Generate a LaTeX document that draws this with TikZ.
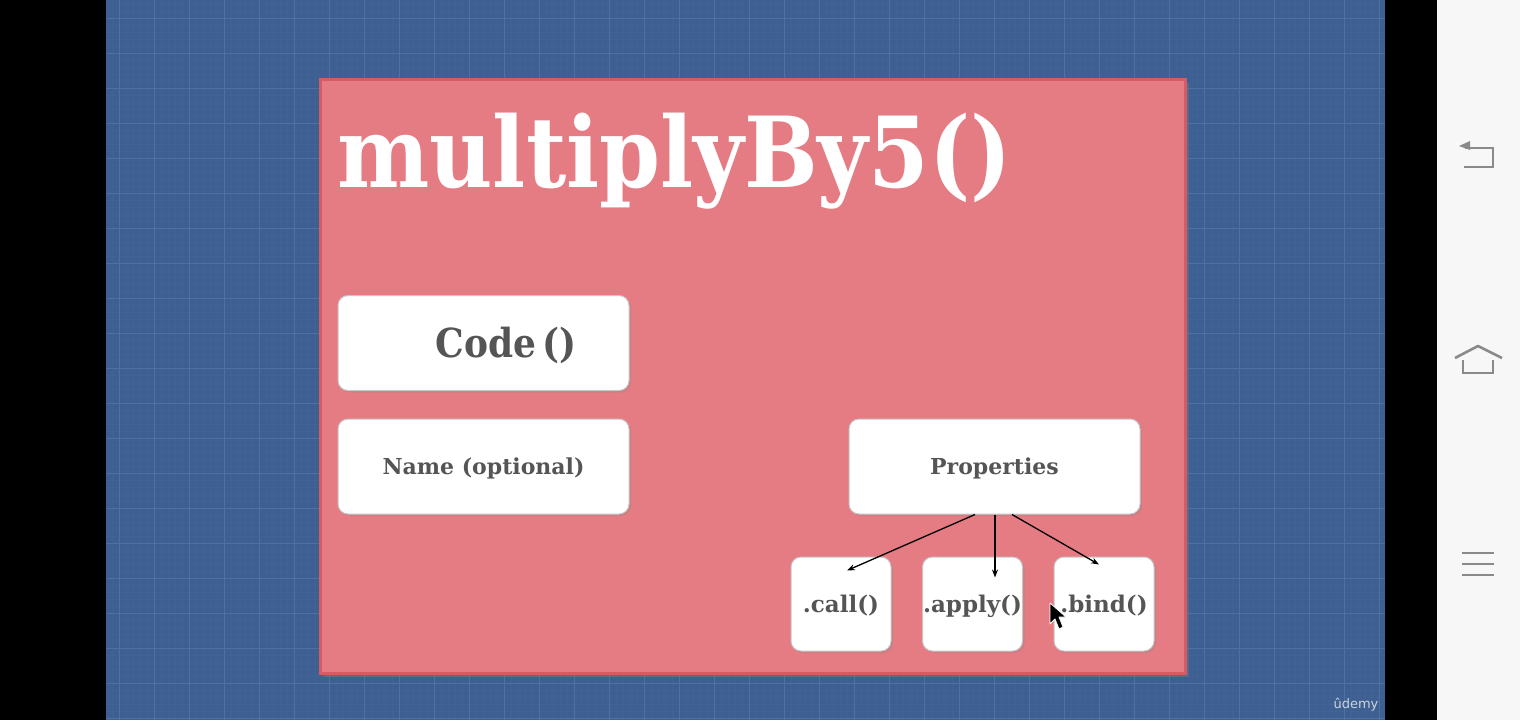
\documentclass[tikz,border=0pt]{standalone}
\usepackage{fontspec}
\setmainfont{DejaVu Serif}
\newfontfamily\logofont{DejaVu Sans}
\usetikzlibrary{arrows.meta,shadows,calc}
\definecolor{boardblue}{HTML}{3E5F92}
\definecolor{gridblue}{HTML}{4E70A3}
\definecolor{slidered}{HTML}{E57C84}
\definecolor{slideedge}{HTML}{D65B64}
\definecolor{labelgray}{HTML}{555555}
\definecolor{navgray}{HTML}{8A8A8A}
\definecolor{navpanel}{HTML}{F7F7F7}
\tikzset{
  gridline/.style={gridblue, line width=1pt},
  minorline/.style={gridblue, opacity=0.18, line width=0.6pt},
  card/.style={fill=white, draw=gray!45, line width=1pt, rounded corners=10pt,
    drop shadow={shadow xshift=2pt, shadow yshift=-2pt, opacity=0.25},
    text=labelgray, font=\bfseries, inner sep=0pt,
    text height=18pt, text depth=2pt},
  widecard/.style={card, minimum width=291pt, minimum height=95pt},
  smallcard/.style={card, minimum width=100pt, minimum height=94pt,
    font=\bfseries\fontsize{23}{23}\selectfont, text height=19pt},
  link/.style={-{Stealth[length=8pt,width=6pt]}, line width=1.3pt},
  navicon/.style={navgray, line width=2.6pt},
}
\begin{document}
\begin{tikzpicture}[x=1pt, y=-1pt]
  \useasboundingbox (0,0) rectangle (1520,720);
  % screen bars
  \fill[black] (0,0) rectangle (1437,720);
  \fill[navpanel] (1437,0) rectangle (1520,720);
  \fill[boardblue] (106,0) rectangle (1385,720);
  % blueprint grid
  \begin{scope}
    \clip (106,0) rectangle (1385,720);
    \foreach \x in {112,119,...,1385} \draw[minorline] (\x,0) -- (\x,720);
    \foreach \y in {4,11,...,720} \draw[minorline] (106,\y) -- (1385,\y);
    \foreach \x in {119,154,...,1385} \draw[gridline] (\x,0) -- (\x,720);
    \foreach \y in {18,53,...,720} \draw[gridline] (106,\y) -- (1385,\y);
  \end{scope}
  % slide
  \fill[slidered, draw=slideedge, line width=3pt,
    drop shadow={shadow xshift=4pt, shadow yshift=-4pt, opacity=0.4}]
    (320,79) rectangle (1185,673);
  \node[anchor=base west, white, inner sep=0pt,
    font=\bfseries\fontsize{98}{98}\selectfont] (title) at (337,187)
    {\scalebox{0.89}[1]{multiplyBy5()}};
  \node[widecard] (code) at (483.5,343) {};
  \node[text=labelgray, font=\bfseries\fontsize{40}{40}\selectfont] (codetxt) at (506,345)
    {\scalebox{0.9}[1]{Code\,()}};
  \node[widecard, font=\bfseries\fontsize{22}{22}\selectfont] (name) at (483.5,466.5) {Name (optional)};
  \node[widecard, font=\bfseries\fontsize{22}{22}\selectfont] (props) at (994.5,466.5) {Properties};
  \node[smallcard] (call) at (841,604) {.call()};
  \node[smallcard] (apply) at (972.5,604) {.apply()};
  \node[smallcard] (bind) at (1104,604) {.bind()};
  \draw[link] ([xshift=-19.5pt]props.south) -- ([xshift=6pt,yshift=-14pt]call.north);
  \draw[link] ([xshift=0.5pt]props.south) -- ([xshift=22.5pt,yshift=-21pt]apply.north);
  \draw[link] ([xshift=17.5pt]props.south) -- ([xshift=-5pt,yshift=-8pt]bind.north);
  % mouse pointer
  \filldraw[black, draw=white, line width=0.8pt, line join=round]
    (1050,603) -- (1050,624) -- (1055,619) -- (1059,629) -- (1063,627)
    -- (1059,617) -- (1066,617) -- cycle;
  % logo
  \node[text=gray!40!boardblue!30!white, font=\logofont\fontsize{13}{13}\selectfont]
    (logo) at (1356,705) {ûdemy};
  % navigation bar icons
  \draw[navicon] (1465,148) -- (1493,148) -- (1493,167) -- (1464,167);
  \fill[navgray] (1459,146) -- (1470,141) -- (1470,150) -- cycle;
  \draw[navicon, line join=round] (1455,358) -- (1478,346) -- (1502,358);
  \draw[navicon] (1463,360) -- (1463,373) -- (1493,373) -- (1493,360);
  \foreach \y in {553,564,575} \draw[navicon] (1462,\y) -- (1494,\y);
\end{tikzpicture}
\end{document}
